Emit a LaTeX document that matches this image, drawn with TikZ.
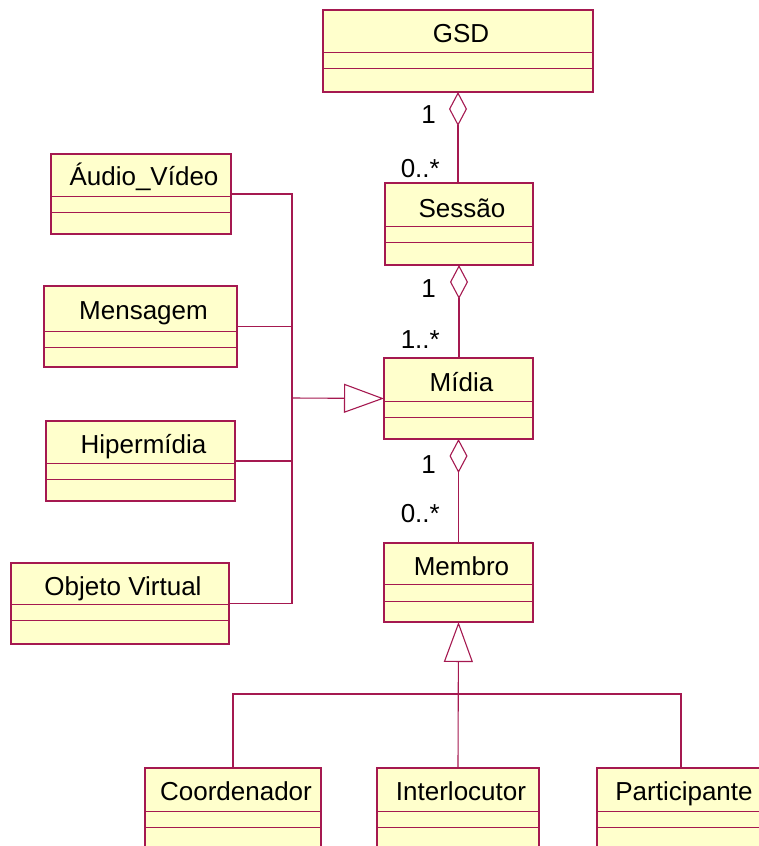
\documentclass[tikz,border=0pt]{standalone}
\usepackage{fontspec}
\setmainfont{Liberation Sans}
\usetikzlibrary{arrows.meta}
\definecolor{umlline}{RGB}{165,25,80}
\definecolor{umlfill}{RGB}{255,255,204}
\tikzset{
  classbox/.style={draw=umlline, fill=umlfill, line width=1.2pt, inner sep=0pt, outer sep=0pt},
  compartment/.style={draw=umlline, line width=1pt},
  classname/.style={font=\fontsize{26}{30}\selectfont, inner sep=0pt, anchor=base},
  mult/.style={font=\fontsize{26}{30}\selectfont, inner sep=0pt, anchor=base east},
  link/.style={draw=umlline, line width=1.1pt},
  aggregation/.style={link, {Diamond[open, length=34pt, width=18pt]}-},
  inherits/.style={link, -{Triangle[open, length=40pt, width=29pt]}},
}
% class box: id, x1, y1, x2, y2, first divider, second divider, name baseline, name
\newcommand{\umlclass}[9]{%
  \node[classbox, anchor=north west, minimum width={(#4-#2)*1pt}, minimum height={(#5-#3)*1pt}] (#1) at (#2,#3) {};
  \draw[compartment] (#2,#6) -- (#4,#6) (#2,#7) -- (#4,#7);
  \node[classname] (#1-name) at ({(#2+#4)/2+3},#8) {#9};
}
\begin{document}
\begin{tikzpicture}[x=1pt,y=-1pt]
\useasboundingbox (0,0) rectangle (759,846);
\clip (0,0) rectangle (759,846);

% classes
\umlclass{gsd}{323}{10}{593}{92}{52}{68}{42}{GSD}
\umlclass{sessao}{385}{183}{533}{265}{226}{242}{217}{Sessão}
\umlclass{midia}{384}{358}{533}{439}{401}{417}{391}{Mídia}
\umlclass{membro}{384}{543}{533}{622}{584}{601}{575}{Membro}
\umlclass{audio}{51}{154}{231}{234}{196}{212}{185}{Áudio\_Vídeo}
\umlclass{mensagem}{44}{286}{237}{367}{331}{347}{319}{Mensagem}
\umlclass{hiper}{46}{421}{235}{501}{463}{479}{453}{Hipermídia}
\umlclass{objeto}{11}{563}{229}{644}{604}{620}{595}{Objeto Virtual}
\umlclass{coord}{145}{768}{321}{870}{811}{827}{800}{Coordenador}
\umlclass{inter}{377}{768}{539}{870}{811}{827}{800}{Interlocutor}
\umlclass{partic}{597}{768}{765}{870}{811}{827}{800}{Participante}

% aggregations
\draw[aggregation] (gsd.south) -- (gsd.south |- sessao.north);
\draw[aggregation] (sessao.south) -- (sessao.south |- midia.north);
\draw[aggregation] (midia.south) -- (midia.south |- membro.north);

% multiplicities
\node[mult] (m-gsd) at (436,123) {1};
\node[mult] (m-sessao-top) at (440,177) {0..*};
\node[mult] (m-sessao) at (436,297) {1};
\node[mult] (m-midia-top) at (440,348) {1..*};
\node[mult] (m-midia) at (436,473) {1};
\node[mult] (m-membro-top) at (440,522) {0..*};

% media kinds generalize Mídia
\coordinate (bus) at (292,398);
\draw[link] (audio.east) -| (bus);
\draw[link] (objeto.east) -| (bus);
\draw[link] (mensagem.east) -- (mensagem.east -| bus);
\draw[link] (hiper.east) -- (hiper.east -| bus);
\draw[inherits] (bus) -- (midia.west);

% member roles generalize Membro
\coordinate (fork) at (458,694);
\draw[link] (coord.north) |- (fork) -| (partic.north);
\draw[inherits] (inter.north) -- (membro.south);
\end{tikzpicture}
\end{document}
